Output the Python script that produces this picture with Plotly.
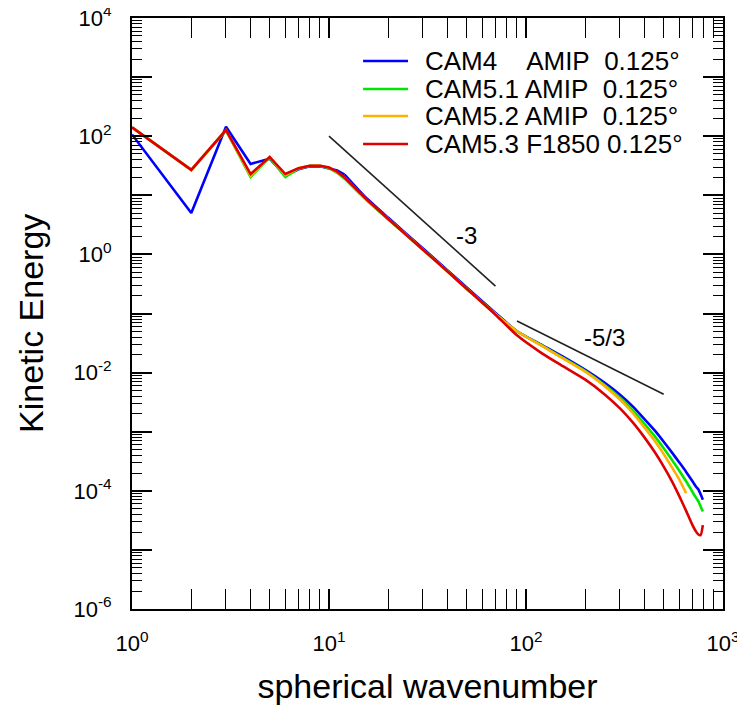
import math
import plotly.graph_objects as go

# ---------------- data ----------------
wavenumber = [1, 2, 3, 4, 5, 6, 7, 8, 9, 10, 11, 12, 15, 20, 30, 40, 50, 70,
              90, 120, 150, 200, 250, 300, 350, 400, 450, 500, 550, 600, 650,
              700, 730, 750, 770, 790]
wavenumber_cam52 = [1, 2, 3, 4, 5, 6, 7, 8, 9, 10, 11, 12, 15, 20, 30, 40, 50, 70,
                    90, 120, 150, 200, 250, 300, 350, 400, 450, 500, 550, 600, 650]

ke_cam4 = [107, 5.0, 145, 33.9, 41.7, 21.4, 27.5, 30.9, 30.9, 28.8, 26.3, 22.4,
           10.0, 4.17, 1.26, 0.537, 0.275, 0.102,
           0.0501, 0.0294, 0.0195, 0.0111, 0.00676, 0.00422, 0.00263, 0.00162,
           0.00105, 6.76e-4, 4.47e-4, 3.02e-4, 2.09e-4, 1.45e-4, 1.17e-4, 1.05e-4,
           8.71e-5, 7.08e-5]
ke_cam51 = [141, 26.9, 126, 20.4, 43.7, 20.4, 28.2, 31.6, 31.6, 28.8, 24.0, 19.1,
            9.12, 3.89, 1.20, 0.513, 0.263, 0.0977,
            0.0501, 0.0288, 0.0186, 0.0106, 0.00624, 0.00376, 0.00226, 0.00135,
            8.41e-4, 5.25e-4, 3.35e-4, 2.19e-4, 1.45e-4, 9.55e-5, 7.59e-5, 6.61e-5,
            5.43e-5, 4.47e-5]
ke_cam52 = [141, 26.9, 126, 21.4, 44.2, 21.9, 28.8, 31.6, 31.6, 29.5, 24.5, 20.0,
            9.33, 3.98, 1.20, 0.513, 0.263, 0.0977,
            0.0501, 0.0285, 0.0183, 0.0104, 0.00596, 0.00351, 0.00204, 0.00117,
            7.00e-4, 4.17e-4, 2.51e-4, 1.55e-4, 9.12e-5]
ke_cam53 = [141, 26.9, 127, 22.9, 44.5, 22.9, 28.8, 31.6, 31.6, 29.5, 25.1, 20.0,
            9.55, 3.98, 1.20, 0.513, 0.263, 0.0955,
            0.0427, 0.0214, 0.0135, 0.00759, 0.00432, 0.00248, 0.00141, 7.94e-4,
            4.52e-4, 2.57e-4, 1.46e-4, 8.13e-5, 4.57e-5, 2.63e-5, 2.04e-5, 1.82e-5,
            1.78e-5, 2.63e-5]

series_names = ["CAM4\u00a0\u00a0\u00a0\u00a0AMIP\u00a0\u00a00.125°",
                "CAM5.1 AMIP\u00a0\u00a00.125°",
                "CAM5.2 AMIP\u00a0\u00a00.125°",
                "CAM5.3 F1850 0.125°"]
series_colors = ["#0000FF", "#00E600", "#FFB000", "#DD0000"]

# reference slopes
slope3_x = [10, 70]
slope3_y = [100, 0.2915]
slope53_x = [90, 500]
slope53_y = [0.0747, 0.00430]
slope_labels = ["-3", "-5/3"]
slope_label_x = [50, 249]
slope_label_y = [2.05, 0.040]

x_tickvals = [1, 10, 100, 1000]
x_ticktext = ["10<sup>0</sup>", "10<sup>1</sup>", "10<sup>2</sup>", "10<sup>3</sup>"]
y_tickvals = [1e-6, 1e-4, 1e-2, 1, 100, 1e4]
y_ticktext = ["10<sup>-6</sup>", "10<sup>-4</sup>", "10<sup>-2</sup>",
              "10<sup>0</sup>", "10<sup>2</sup>", "10<sup>4</sup>"]
y_unlabeled_decades = [1e-5, 1e-3, 1e-1, 10, 1e3]

# ---------------- figure ----------------
FONT = "Liberation Sans, Arial, sans-serif"
fig = go.Figure()

N_LOW = 12  # wavenumbers 1..12 drawn as straight segments
xs = [wavenumber, wavenumber, wavenumber_cam52, wavenumber]
ys = [ke_cam4, ke_cam51, ke_cam52, ke_cam53]
for name, col, x, y in zip(series_names, series_colors, xs, ys):
    fig.add_trace(go.Scatter(x=x[:N_LOW], y=y[:N_LOW], mode="lines", name=name,
                             line=dict(color=col, width=2.6), showlegend=False))
    fig.add_trace(go.Scatter(x=x[N_LOW - 1:], y=y[N_LOW - 1:], mode="lines", name=name,
                             line=dict(color=col, width=2.6, shape="spline", smoothing=0.6),
                             showlegend=False))

for sx, sy in [(slope3_x, slope3_y), (slope53_x, slope53_y)]:
    fig.add_trace(go.Scatter(x=sx, y=sy, mode="lines", yaxis="y2",
                             line=dict(color="#222222", width=1.6),
                             showlegend=False, hoverinfo="skip"))

annotations = []
for t, ax, ay in zip(slope_labels, slope_label_x, slope_label_y):
    annotations.append(dict(x=math.log10(ax), y=math.log10(ay),
                            xref="x", yref="y", text=t, showarrow=False,
                            font=dict(size=24, color="black", family=FONT)))

# y-axis title placed as rotated text
annotations.append(dict(x=-0.171, y=0.484, xref="paper", yref="paper",
                        text="Kinetic Energy", textangle=-90, showarrow=False,
                        xanchor="center", yanchor="middle",
                        font=dict(size=34, color="black", family=FONT)))

# manual legend (decoration)
leg_y = [0.9272, 0.8799, 0.8342, 0.7868]
shapes = []
for name, col, ly in zip(series_names, series_colors, leg_y):
    shapes.append(dict(type="line", xref="paper", yref="paper",
                       x0=0.391, x1=0.467, y0=ly, y1=ly,
                       line=dict(color=col, width=2.6)))
    annotations.append(dict(x=0.4924, y=ly, xref="paper", yref="paper",
                            xanchor="left", yanchor="middle", text=name,
                            showarrow=False,
                            font=dict(size=26, color="black", family=FONT)))

tickfont = dict(size=22, color="black", family=FONT)
x_minor = [m * 10 ** e for e in range(0, 3) for m in range(2, 10)]
y_minor = [m * 10.0 ** e for e in range(-6, 4) for m in range(2, 10)]
minor_cfg = dict(ticks="inside", ticklen=10, tickwidth=1.3, tickcolor="black", showgrid=False)

fig.update_layout(
    xaxis=dict(type="log", range=[0, 3], tickmode="array", tickvals=x_tickvals,
               ticktext=x_ticktext, showline=True, linecolor="black", linewidth=2,
               mirror="allticks", ticks="inside", ticklen=20, tickwidth=1.6,
               tickcolor="black", showgrid=False, zeroline=False, automargin=False,
               tickfont=tickfont, ticklabelstandoff=14, ticklabeloverflow="allow",
               minor=dict(tickmode="array", tickvals=x_minor, **minor_cfg),
               title=dict(text="spherical wavenumber", standoff=19,
                          font=dict(size=34, color="black", family=FONT))),
    yaxis=dict(type="log", range=[-6, 4], tickmode="array", tickvals=y_tickvals,
               ticktext=y_ticktext, showline=True, linecolor="black", linewidth=2,
               mirror="allticks", ticks="inside", ticklen=20, tickwidth=1.6,
               tickcolor="black", showgrid=False, zeroline=False, automargin=False,
               tickfont=tickfont, ticklabelstandoff=14, ticklabeloverflow="allow",
               minor=dict(tickmode="array", tickvals=y_minor, **minor_cfg)),
    yaxis2=dict(type="log", range=[-6, 4], overlaying="y", side="left", anchor="x",
                tickmode="array", tickvals=y_unlabeled_decades, showticklabels=False,
                showline=False, mirror="allticks", ticks="inside", ticklen=20,
                tickwidth=1.6, tickcolor="black", showgrid=False, zeroline=False,
                automargin=False),
    width=737, height=699,
    margin=dict(l=124, r=22, t=10, b=98, autoexpand=False),
    paper_bgcolor="white", plot_bgcolor="white",
    annotations=annotations, shapes=shapes,
    font=dict(family=FONT, color="black"),
)

fig.write_html("out.html")
